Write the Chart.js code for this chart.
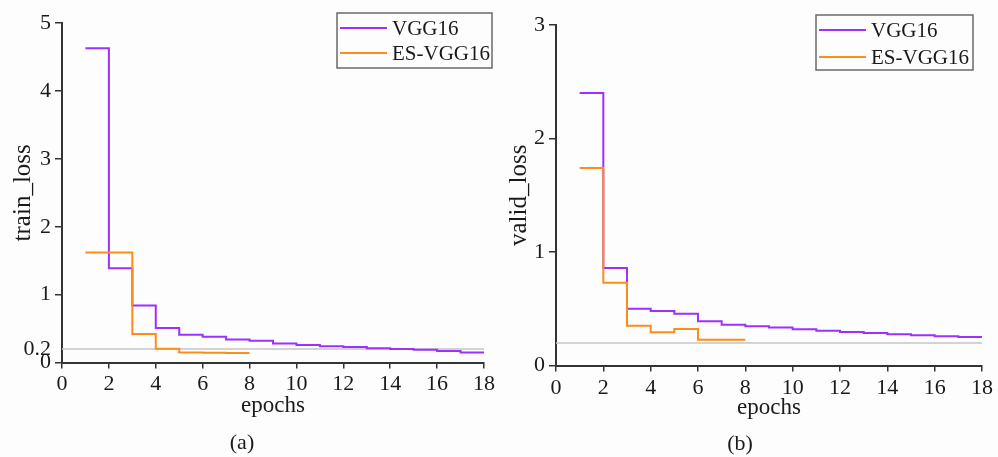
<!DOCTYPE html>
<html>
<head>
<meta charset="utf-8">
<script src="https://cdn.jsdelivr.net/npm/chart.js@4.4.0/dist/chart.umd.min.js"></script>
<style>
  html, body { margin: 0; padding: 0; background: #fdfdfd; }
  #wrap { position: relative; width: 998px; height: 457px; }
  .box { position: absolute; top: 0; height: 457px; }
</style>
</head>
<body>
<div id="wrap">
  <div class="box" style="left:0;width:498px"><canvas id="trainChart"></canvas></div>
  <div class="box" style="left:498px;width:500px"><canvas id="validChart"></canvas></div>
</div>
<script>
// values, one value per epoch (held until the next epoch)
const epochs = [1, 2, 3, 4, 5, 6, 7, 8, 9, 10, 11, 12, 13, 14, 15, 16, 17, 18];
const seriesNames = ['VGG16', 'ES-VGG16'];
const trainVgg = [4.63, 1.39, 0.84, 0.51, 0.41, 0.38, 0.34, 0.32, 0.28, 0.26, 0.24, 0.23, 0.21, 0.20, 0.19, 0.17, 0.15, 0.15];
const trainEs = [1.62, 1.62, 0.42, 0.205, 0.15, 0.145, 0.14, 0.14];
const validVgg = [2.40, 0.86, 0.50, 0.48, 0.457, 0.39, 0.36, 0.346, 0.335, 0.32, 0.308, 0.297, 0.288, 0.276, 0.267, 0.259, 0.253, 0.253];
const validEs = [1.74, 0.73, 0.35, 0.294, 0.323, 0.227, 0.227, 0.227];
const refLevel = 0.2;
const refRange = [0, 18];
const trainTicks = [0, 0.2, 1, 2, 3, 4, 5];
const validTicks = [0, 1, 2, 3];

const purple = '#9b30ff';
const orange = '#ff8c1a';
const serif = "'Liberation Serif', 'Times New Roman', serif";

const toPoints = (values) => values.map((v, i) => ({ x: epochs[i], y: v }));

// draws the framed legend inside the plot like the original
const boxLegend = {
  id: 'boxLegend',
  afterDatasetsDraw(chart, args, opts) {
    const ctx = chart.ctx;
    ctx.save();
    ctx.fillStyle = '#fdfdfd';
    ctx.fillRect(opts.x, opts.y, opts.w, opts.h);
    ctx.strokeStyle = '#6a6a6a';
    ctx.lineWidth = 1.5;
    ctx.strokeRect(opts.x, opts.y, opts.w, opts.h);
    ctx.font = '21px ' + serif;
    ctx.textBaseline = 'middle';
    [purple, orange].forEach((c, i) => {
      const y = opts.rows[i];
      ctx.strokeStyle = c;
      ctx.lineWidth = 2;
      ctx.beginPath();
      ctx.moveTo(opts.x + 3, y);
      ctx.lineTo(opts.x + 50, y);
      ctx.stroke();
      ctx.fillStyle = '#1a1a1a';
      ctx.fillText(seriesNames[i], opts.x + 55, y + 1);
    });
    ctx.restore();
  }
};

function makeChart(id, vgg, es, cfg) {
  new Chart(document.getElementById(id), {
    type: 'line',
    data: {
      datasets: [
        { label: seriesNames[0], data: toPoints(vgg), borderColor: purple, borderWidth: 2, stepped: true, pointRadius: 0, order: 1 },
        { label: seriesNames[1], data: toPoints(es), borderColor: orange, borderWidth: 2, stepped: true, pointRadius: 0, order: 0 },
        { label: 'ref', data: refRange.map(x => ({ x: x, y: refLevel })), borderColor: '#c4c4c4', borderWidth: 1.5, pointRadius: 0, order: 2 }
      ]
    },
    options: {
      responsive: true,
      maintainAspectRatio: false,
      animation: false,
      layout: { padding: cfg.padding },
      plugins: {
        legend: { display: false },
        tooltip: { enabled: false },
        title: {
          display: true, position: 'bottom', text: cfg.caption, color: '#1a1a1a',
          font: { family: serif, size: 22, weight: 'normal' }, padding: { top: 0, bottom: cfg.captionPad }
        },
        boxLegend: cfg.legend
      },
      scales: {
        x: {
          type: 'linear', min: 0, max: 18,
          border: { color: '#333', width: 2 },
          grid: { drawOnChartArea: false, color: '#333', tickLength: 6, lineWidth: 1.5 },
          ticks: { stepSize: 2, color: '#1a1a1a', font: { family: serif, size: 22 }, padding: cfg.xTickPad, maxRotation: 0 },
          title: { display: true, text: 'epochs', color: '#1a1a1a', font: { family: serif, size: 23 }, padding: { top: 0, bottom: cfg.xTitlePad } },
          afterFit: (s) => { s.height = cfg.xHeight; }
        },
        y: {
          min: 0, max: cfg.yMax,
          afterBuildTicks: (s) => { s.ticks = cfg.yTicks.map(v => ({ value: v })); },
          border: { color: '#333', width: 2 },
          grid: {
            drawOnChartArea: false, tickLength: 7, lineWidth: 1.5,
            color: (c) => (c.tick && c.tick.value === refLevel ? 'rgba(0,0,0,0)' : '#333')
          },
          ticks: {
            autoSkip: false, color: '#1a1a1a', font: { family: serif, size: 22 }, padding: 4,
            callback: (v) => String(v)
          },
          title: { display: true, text: cfg.yTitle, color: '#1a1a1a', font: { family: serif, size: 25 }, padding: { top: cfg.yTitlePad, bottom: 0 } },
          afterFit: (s) => { s.width = cfg.yWidth; }
        }
      }
    },
    plugins: [boxLegend]
  });
}

makeChart('trainChart', trainVgg, trainEs, {
  caption: '(a)', captionPad: 1, yTitle: 'train_loss', yMax: 5, yTicks: trainTicks,
  padding: { left: 0, right: 14, top: 23, bottom: 0 },
  xHeight: 67, xTickPad: 2, xTitlePad: 10, yWidth: 62, yTitlePad: 8,
  legend: { x: 337, y: 13, w: 155, h: 55, rows: [28, 53] }
});

makeChart('validChart', validVgg, validEs, {
  caption: '(b)', captionPad: 0, yTitle: 'valid_loss', yMax: 3, yTicks: validTicks,
  padding: { left: 0, right: 16, top: 25, bottom: 0 },
  xHeight: 65, xTickPad: 3, xTitlePad: 9, yWidth: 58, yTitlePad: 6,
  legend: { x: 318, y: 15, w: 157, h: 55, rows: [30, 57] }
});
</script>
</body>
</html>
